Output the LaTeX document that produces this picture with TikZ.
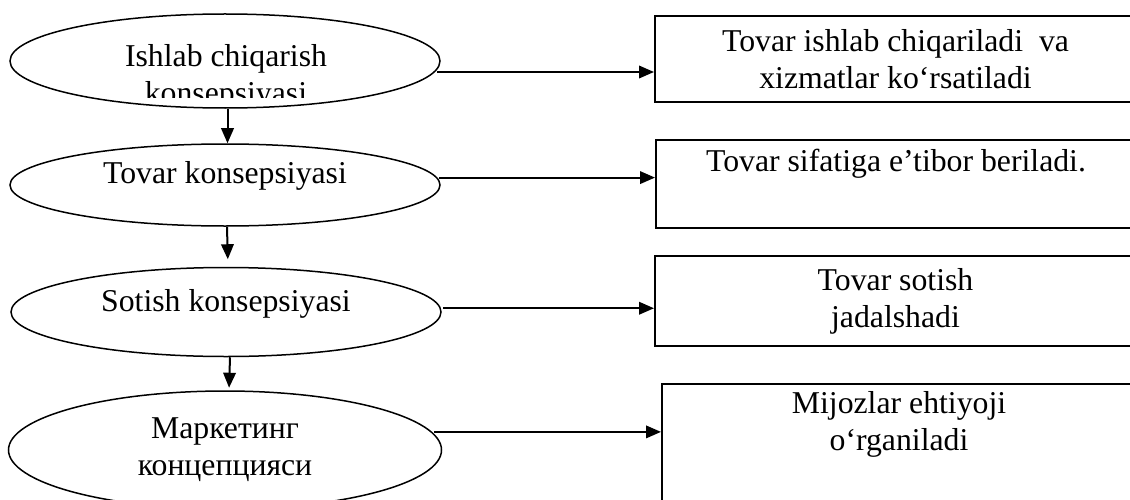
\documentclass[tikz,border=0pt]{standalone}
\usepackage{fontspec}
\setmainfont{Liberation Serif}
\usetikzlibrary{arrows.meta,shapes.geometric}

\begin{document}
\begin{tikzpicture}[x=0.4pt, y=-0.4pt, >={Triangle[length=6pt,width=5pt]},
  matn/.style={align=center, font=\fontsize{12.7}{14.8}\selectfont},
  konsep/.style={matn, draw, ellipse, line width=0.6pt, inner sep=0pt, minimum width=172pt},
  natija/.style={matn, draw, rectangle, line width=0.8pt, anchor=north west, inner sep=0pt},
  strelka/.style={->, line width=0.8pt}]
\useasboundingbox (0,0) rectangle (1130,499);
% konsepsiyalar
\node [konsep, minimum height=37.6pt] (c1) at (225,61) {};
\begin{scope}
\clip (0,0) rectangle (450,98);
\node [matn] (c1txt) at (226,77) {Ishlab chiqarish\\konsepsiyasi};
\end{scope}
\node [konsep, minimum height=32.8pt, text height=8.7pt, text depth=10pt] (c2) at (225,185) {Tovar konsepsiyasi};
\node [konsep, minimum height=35.6pt, text height=8.7pt, text depth=9.5pt] (c3) at (226,312) {Sotish konsepsiyasi};
\node [konsep, minimum height=47.2pt, minimum width=173.2pt] (c4) at (225,450) {Маркетинг\\концепцияси};
% natijalar
\node [natija, minimum width=192.4pt, minimum height=34.4pt] (r1) at (654,15) {Tovar ishlab chiqariladi\ \ va\\xizmatlar ko‘rsatiladi};
\node [natija, minimum width=192pt, minimum height=35.2pt] (r2) at (655,139) {Tovar sifatiga e’tibor beriladi.\\ \strut};
\node [natija, minimum width=192.4pt, minimum height=36pt] (r3) at (654,255) {Tovar sotish\\jadalshadi};
\node [natija, minimum width=189.6pt, minimum height=64pt] (r4) at (661,383) {Mijozlar ehtiyoji\\o‘rganiladi\\ \strut\\ \strut};
% strelkalar
\draw [strelka, shorten <=0.8pt] (c1.-3) -- (c1.-3 -| r1.west);
\draw [strelka, shorten <=0.8pt] (c2.2) -- (c2.2 -| r2.west);
\draw [strelka, shorten <=0.8pt] (c3.1) -- (c3.1 -| r3.west);
\draw [strelka, shorten <=0.8pt] (c4.5) -- (c4.5 -| r4.west);
\draw [strelka] ([xshift=1pt]c1.south) -- ([xshift=1pt]c2.north);
\draw [strelka, shorten >=3pt] ([xshift=0.8pt]c2.south) -- ([xshift=0.8pt]c3.north);
\draw [strelka, shorten >=1pt] ([xshift=1.6pt]c3.south) -- ([xshift=1.6pt]c4.north);
\end{tikzpicture}
\end{document}
